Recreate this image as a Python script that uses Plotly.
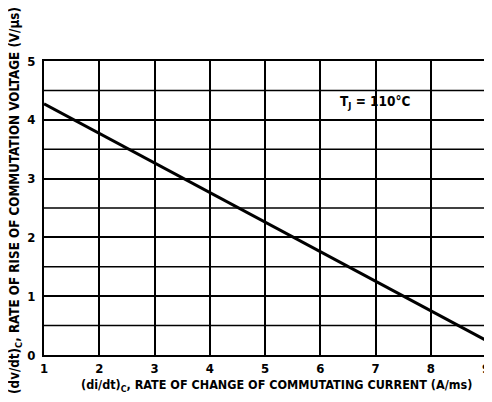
import plotly.graph_objects as go

x_vals = [1, 9]
y_vals = [4.27, 0.25]
x_ticks = [1, 2, 3, 4, 5, 6, 7, 8, 9]
y_ticks = [0, 1, 2, 3, 4, 5]
y_grid = [0.5, 1.5, 2.5, 3.5, 4.5]

FONT = "DejaVu Sans Condensed, Liberation Sans Narrow, Arial Narrow, Liberation Sans"

fig = go.Figure()
fig.add_trace(go.Scatter(x=x_vals, y=y_vals, mode="lines",
                         line=dict(color="black", width=3), showlegend=False))

for g in y_grid:
    fig.add_shape(type="line", xref="x", yref="y", x0=1, x1=9, y0=g, y1=g,
                  line=dict(color="black", width=1.5), layer="below")

fig.add_annotation(x=7.0, y=4.31, xref="x", yref="y", showarrow=False,
                   text="T<sub>J</sub> = 110°C",
                   font=dict(family=FONT, size=13.5, color="black", weight="bold"))

fig.add_annotation(x=0.525, y=-0.105, xref="paper", yref="paper", showarrow=False,
                   xanchor="center", yanchor="middle",
                   text="(di/dt)<sub>C</sub>, RATE OF CHANGE OF COMMUTATING CURRENT (A/ms)",
                   font=dict(family=FONT, size=12.5, color="black", weight="bold"))
fig.add_annotation(x=-0.066, y=0.527, xref="paper", yref="paper", showarrow=False,
                   xanchor="center", yanchor="middle", textangle=-90,
                   text="(dv/dt)<sub>C</sub>, RATE OF RISE OF COMMUTATION VOLTAGE (V/µs)",
                   font=dict(family=FONT, size=13.3, color="black", weight="bold"))

fig.update_xaxes(range=[1, 9], tickvals=x_ticks, showgrid=True, gridcolor="black",
                 gridwidth=1.5, showline=True, linecolor="black", linewidth=2,
                 mirror=True, zeroline=False, ticks="", ticklen=0, automargin=False,
                 ticklabeloverflow="allow",
                 tickfont=dict(family=FONT, size=13, color="black", weight="bold"))
fig.update_yaxes(range=[0, 5], tickvals=y_ticks, showgrid=True, gridcolor="black",
                 gridwidth=1.5, showline=True, linecolor="black", linewidth=2,
                 mirror=True, zeroline=False, ticks="", ticklen=0, automargin=False,
                 ticklabelstandoff=4,
                 tickfont=dict(family=FONT, size=13, color="black", weight="bold"))

# page body adds an 8px offset; size the figure so the plot lands where the reference has it
fig.update_layout(width=484, height=394, margin=dict(l=36, r=6, t=53, b=47),
                  plot_bgcolor="white", paper_bgcolor="white",
                  font=dict(family=FONT, color="black"))
fig.write_html("out.html")
